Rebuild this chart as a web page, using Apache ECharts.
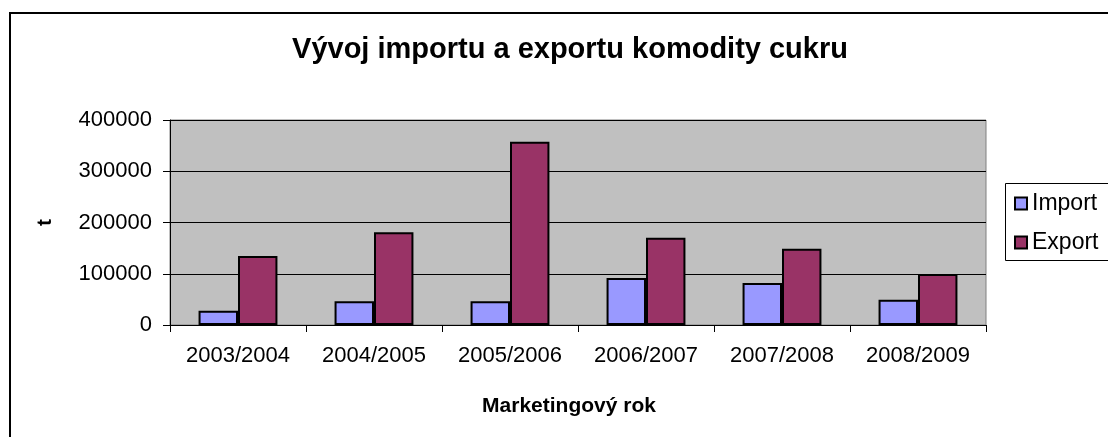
<!DOCTYPE html>
<html>
<head>
<meta charset="utf-8">
<script src="https://cdn.jsdelivr.net/npm/echarts@6/dist/echarts.min.js"></script>
<style>
  html, body { margin: 0; padding: 0; background: #fff; }
  #chart { width: 1108px; height: 437px; }
</style>
</head>
<body>
<div id="chart"></div>
<script>
// roky (marketingové)
var years = ['2003/2004', '2004/2005', '2005/2006', '2006/2007', '2007/2008', '2008/2009'];
var importVals = [27900, 46200, 46200, 91700, 82000, 49400];
var exportVals = [134600, 180900, 357700, 170300, 148900, 99500];
var yTicks = [0, 100000, 200000, 300000, 400000];

var font = 'Liberation Sans, Arial, sans-serif';

var chart = echarts.init(document.getElementById('chart'));
chart.setOption({
  animation: false,
  textStyle: { fontFamily: font, color: '#000' },
  title: {
    text: 'Vývoj importu a exportu komodity cukru',
    left: 565,
    top: 30,
    textAlign: 'center',
    textStyle: { fontFamily: font, fontSize: 29, fontWeight: 'bold', color: '#000' }
  },
  graphic: [{
    type: 'rect',
    shape: { x: 10, y: 13, width: 1200, height: 500 },
    style: { fill: 'none', stroke: '#000', lineWidth: 2 },
    silent: true
  }, {
    // ramecek legendy (vpravo oriznuty)
    type: 'rect',
    shape: { x: 1005.5, y: 183.5, width: 200, height: 77 },
    style: { fill: 'none', stroke: '#000', lineWidth: 1 },
    silent: true
  }],
  legend: {
    orient: 'vertical',
    left: 1005,
    top: 183,
    padding: [9, 10, 8, 9],
    itemWidth: 12,
    itemHeight: 12,
    itemGap: 16,
    icon: 'rect',
    textStyle: { fontFamily: font, fontSize: 23, color: '#000' },
    data: ['Import', 'Export']
  },
  grid: {
    left: 170,
    top: 120,
    width: 816,
    height: 205,
    show: true,
    backgroundColor: '#C0C0C0',
    borderColor: '#808080',
    borderWidth: 1
  },
  xAxis: {
    type: 'category',
    data: years,
    name: 'Marketingový rok',
    nameLocation: 'middle',
    nameGap: 71,
    nameTextStyle: { fontFamily: font, fontSize: 21, fontWeight: 'bold', color: '#000', padding: [0, 18, 0, 0] },
    axisLine: { lineStyle: { color: '#000', width: 1 } },
    axisTick: { show: true, length: 7, lineStyle: { color: '#000' } },
    axisLabel: { margin: 20, fontSize: 22, color: '#000', fontFamily: font }
  },
  yAxis: {
    type: 'value',
    min: yTicks[0],
    max: yTicks[yTicks.length - 1],
    interval: 100000,
    name: 't',
    nameLocation: 'middle',
    nameGap: 114,
    nameTextStyle: { fontFamily: font, fontSize: 21, fontWeight: 'bold', color: '#000' },
    axisLine: { show: true, lineStyle: { color: '#000', width: 1 } },
    axisTick: { show: true, length: 7, lineStyle: { color: '#000' } },
    axisLabel: {
      margin: 18, fontSize: 22, color: '#000', fontFamily: font,
      formatter: function (v) { return String(v); }
    },
    splitLine: { show: true, lineStyle: { color: '#000', width: 1 } }
  },
  series: [{
    name: 'Import',
    type: 'bar',
    data: importVals,
    barGap: '0%',
    barCategoryGap: '42%',
    itemStyle: { color: '#9999FF', borderColor: '#000', borderWidth: 2 }
  }, {
    name: 'Export',
    type: 'bar',
    data: exportVals,
    barGap: '0%',
    barCategoryGap: '42%',
    itemStyle: { color: '#993366', borderColor: '#000', borderWidth: 2 }
  }]
});
</script>
</body>
</html>
